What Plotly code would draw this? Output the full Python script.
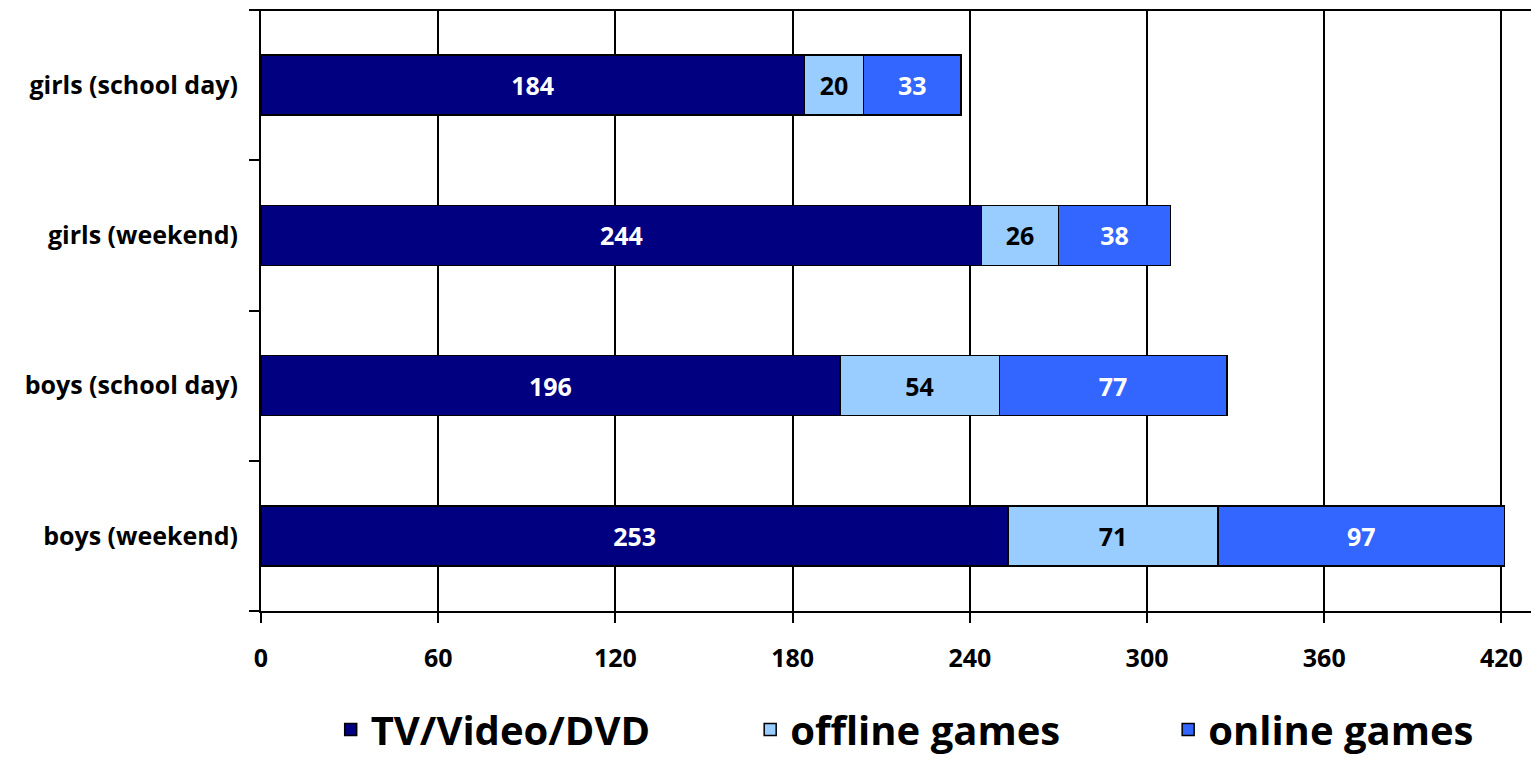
import plotly.graph_objects as go

groups = ["boys (weekend)", "boys (school day)", "girls (weekend)", "girls (school day)"]
tv_video_dvd = [253, 196, 244, 184]
offline_games = [71, 54, 26, 20]
online_games = [97, 77, 38, 33]
x_ticks = [0, 60, 120, 180, 240, 300, 360, 420]

series = [
    ("TV/Video/DVD", tv_video_dvd, "#000080", "white", "legend", 0.216),
    ("offline games", offline_games, "#99CCFF", "black", "legend2", 0.490),
    ("online games", online_games, "#3366FF", "white", "legend3", 0.763),
]

font_family = "'Open Sans', Lato, sans-serif"
W, H = 1531, 762

fig = go.Figure()
legends = {}
for name, values, color, text_color, leg, lx in series:
    fig.add_trace(go.Bar(
        y=groups,
        x=values,
        name=name,
        orientation="h",
        legend=leg,
        marker=dict(color=color, line=dict(color="black", width=1.5)),
        width=0.4,
        text=values,
        textposition="inside",
        insidetextanchor="middle",
        textangle=0,
        textfont=dict(color=text_color, size=25, family=font_family, weight="bold"),
    ))
    # legend kept fully inside the page so it does not push the margins
    legends[leg] = dict(
        orientation="h",
        x=lx, xanchor="left",
        y=0.0, yanchor="bottom",
        font=dict(size=40, family=font_family, weight="bold"),
        bgcolor="rgba(0,0,0,0)",
    )

fig.update_layout(
    barmode="stack",
    width=W,
    height=H,
    margin=dict(l=0, r=0, t=0, b=0),
    plot_bgcolor="white",
    paper_bgcolor="white",
    font=dict(family=font_family, color="black"),
    uniformtext=dict(minsize=10, mode="show"),
    showlegend=True,
    **legends,
    xaxis=dict(
        domain=[261 / W, 1],
        range=[0, 430],
        tickvals=x_ticks,
        showgrid=True,
        gridcolor="black",
        gridwidth=1.5,
        showline=True,
        linecolor="black",
        linewidth=2,
        ticks="outside",
        ticklen=10,
        tickwidth=1.5,
        tickcolor="black",
        ticklabelstandoff=14,
        tickfont=dict(size=25, family=font_family, weight="bold"),
        zeroline=False,
        automargin=False,
    ),
    yaxis=dict(
        domain=[151 / H, 1 - 10 / H],
        categoryorder="array",
        categoryarray=groups,
        showline=True,
        linecolor="black",
        linewidth=2,
        ticks="outside",
        tickson="boundaries",
        ticklen=10,
        tickwidth=1.5,
        tickcolor="black",
        ticklabelstandoff=16,
        tickfont=dict(size=25, family=font_family, weight="bold"),
        showgrid=False,
        automargin=False,
    ),
    shapes=[dict(type="line", xref="x domain", yref="y domain", x0=-10 / 1270, x1=1, y0=1, y1=1,
                 line=dict(color="black", width=2))],
)

fig.write_html("out.html", config={"displayModeBar": False},
               post_script="document.body.style.margin = '0';")
